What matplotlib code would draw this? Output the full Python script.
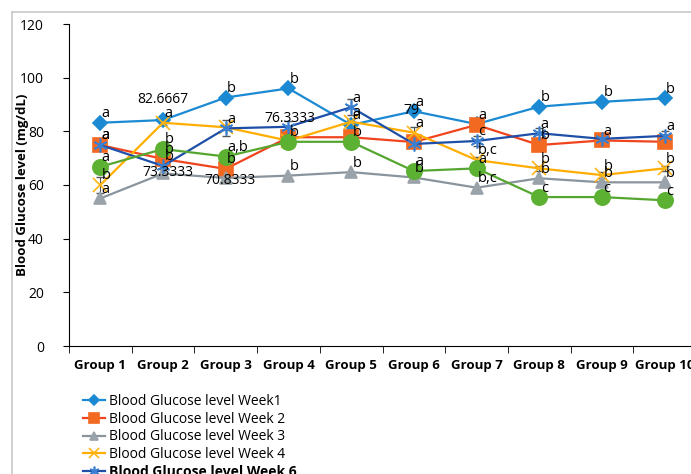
import numpy as np
import matplotlib
matplotlib.use('Agg')
import matplotlib.pyplot as plt
from matplotlib.lines import Line2D

groups = ['Group 1', 'Group 2', 'Group 3', 'Group 4', 'Group 5',
          'Group 6', 'Group 7', 'Group 8', 'Group 9', 'Group 10']

week1 = [83.2, 84.2, 92.6, 96.0, 82.4, 87.5, 82.7, 89.2, 91.0, 92.3]
week2 = [74.9, 69.7, 66.0, 77.8, 77.8, 76.0, 82.4, 74.9, 76.6, 76.1]
week3 = [55.0, 64.3, 62.6, 63.5, 64.8, 62.8, 59.0, 62.5, 61.0, 61.0]
week4 = [60.0, 83.2, 81.5, 76.5, 83.6, 79.5, 69.3, 66.2, 63.7, 66.2]
week6 = [74.9, 67.1, 81.1, 81.7, 89.0, 75.3, 76.4, 79.3, 77.2, 78.3]
green = [66.8, 73.4, 70.6, 76.1, 76.1, 65.2, 66.2, 55.5, 55.5, 54.3]

err4 = [3, 1, 1, 1, 1, 2, 1, 1, 1, 1]
err6 = [1, 1, 3, 2, 3, 1, 2, 2, 1, 2]
errg = [1, 1, 1, 1, 1, 1, 1, 2, 2, 2]

let1 = ['a', '', 'b', 'b', 'a', 'a', '', 'b', 'b', 'b']
let2 = ['a', 'b', 'b', '', '', '', 'a', 'b', 'a', '']
let3 = ['a', '', '', 'b', 'b', 'b', 'b,c', 'b', 'b', 'b']
let4 = ['b', 'a', '', '', 'a', 'a', 'b,c', 'b', 'b', 'b']
let6 = ['a', 'b', 'a', '', 'a', '', 'c', 'a', '', 'a']
letg = ['a', 'b', 'a,b', 'b', 'b', 'a', 'a', 'c', 'c', 'c']

# value labels shown on the chart: (text, x, y)
value_labels = [('82.6667', 1.0, 91.7), ('73.3333', 1.07, 64.5),
                ('70.8333', 2.06, 61.5), ('76.3333', 3.03, 84.6),
                ('79', 4.96, 87.6)]

plt.rcParams['font.family'] = ['Open Sans', 'DejaVu Sans']

fig = plt.figure(figsize=(6.91, 4.74), dpi=100)
ax = fig.add_axes([69 / 691, 1 - 346 / 474, 627 / 691, 322 / 474])

x = np.arange(len(groups))

series = [
    (week1, 'Blood Glucose level Week1', '#1b8ad3', '#1b8ad3', 'D', 7, None, let1),
    (week2, 'Blood Glucose level Week 2', '#f0441e', '#f26a22', 's', 10, None, let2),
    (week3, 'Blood Glucose level Week 3', '#8a949c', '#9aa3aa', '^', 9, None, let3),
    (week4, 'Blood Glucose level Week 4', '#ffae00', '#ffb515', 'x', 10, err4, let4),
    (week6, 'Blood Glucose level Week 6', '#1e4fa8', '#3a7fd0', (6, 2, 0), 10, err6, let6),
    (green, '_nolegend_', '#55a630', '#5cb032', 'o', 11, errg, letg),
]

for vals, lab, lc, mc, mk, ms, err, lets in series:
    ax.plot(x, vals, color=lc, lw=1.6, marker=mk, ms=ms, mfc=mc, mec=mc,
            mew=1.2, label=lab, zorder=3)
    if err is not None:
        ax.errorbar(x, vals, yerr=err, fmt='none', ecolor='#555555',
                    elinewidth=0.8, capsize=3, zorder=2)
    for xi, yi, t in zip(x, vals, lets):
        if t:
            ax.annotate(t, (xi, yi), xytext=(1, 4), textcoords='offset points',
                        fontsize=10.5, color='black', zorder=5)

for t, tx, ty in value_labels:
    ax.text(tx, ty, t, ha='center', va='center', fontsize=10, zorder=6)

ax.set_ylim(0, 120)
ax.set_xlim(-0.5, 9.5)
ax.set_yticks(np.arange(0, 121, 20))
ax.set_xticks(x)
ax.set_xticklabels(groups, fontweight='bold', fontsize=9.5)
ax.set_xticks(np.arange(-0.5, 10, 1), minor=True)
ax.tick_params(axis='x', which='major', length=0, pad=9)
ax.tick_params(axis='x', which='minor', length=5, direction='out')
ax.tick_params(axis='y', length=4, direction='out', labelsize=10, pad=14)
ax.spines['top'].set_visible(False)
ax.spines['right'].set_visible(False)
ax.set_ylabel('Blood Glucose level (mg/dL)', fontweight='bold', fontsize=9.5)
ax.yaxis.set_label_coords(-0.064, 0.5)

leg = fig.legend(loc='upper left', bbox_to_anchor=(76 / 691, 1 - 387 / 474),
                 frameon=False, fontsize=10, handlelength=1.6, markerscale=0.7,
                 handletextpad=0.3, labelspacing=0.2, borderpad=0)
leg.get_texts()[-1].set_fontweight('bold')

# outer chart border (light gray)
fig.add_artist(Line2D([12 / 691, 12 / 691], [0, 1 - 12 / 474],
                      transform=fig.transFigure, color='#c8c8c8', lw=1.2))
fig.add_artist(Line2D([12 / 691, 1], [1 - 12 / 474, 1 - 12 / 474],
                      transform=fig.transFigure, color='#c8c8c8', lw=1.2))

fig.savefig('out.png', dpi=100)
